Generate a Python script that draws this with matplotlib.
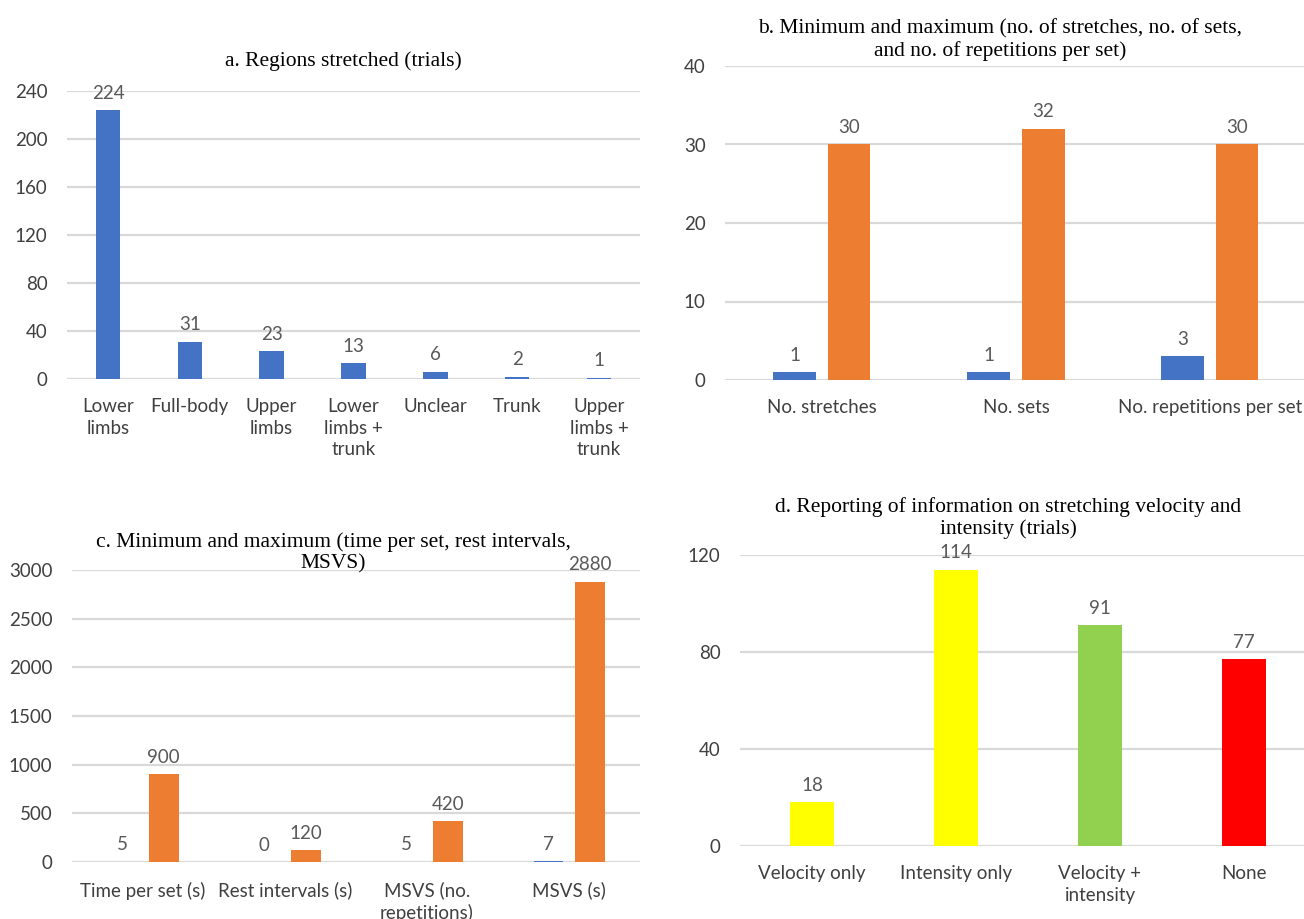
import matplotlib
matplotlib.use("Agg")
import matplotlib.pyplot as plt
import numpy as np

plt.rcParams['font.family'] = ['Lato', 'DejaVu Sans']

# a. Regions stretched (trials)
regions = ['Lower\nlimbs', 'Full-body', 'Upper\nlimbs', 'Lower\nlimbs +\ntrunk',
           'Unclear', 'Trunk', 'Upper\nlimbs +\ntrunk']
region_trials = [224, 31, 23, 13, 6, 2, 1]

# b. min / max of stretches, sets, repetitions
dose_cats = ['No. stretches', 'No. sets', 'No. repetitions per set']
dose_min = [1, 1, 3]
dose_max = [30, 32, 30]

# c. min / max of time per set, rest intervals, MSVS
time_cats = ['Time per set (s)', 'Rest intervals (s)', 'MSVS (no.\nrepetitions)', 'MSVS (s)']
time_min = [5, 0, 5, 7]
time_max = [900, 120, 420, 2880]

# d. reporting of velocity / intensity
report_cats = ['Velocity only', 'Intensity only', 'Velocity +\nintensity', 'None']
report_trials = [18, 114, 91, 77]

BLUE = '#4472C4'
ORANGE = '#ED7D31'
report_colors = ['#FFFF00', '#FFFF00', '#92D050', '#FF0000']
GRID = '#D9D9D9'
TXT = '#595959'
SERIF = ['Liberation Serif', 'DejaVu Serif']

W, H = 1304, 919
fig = plt.figure(figsize=(W / 100, H / 100), dpi=100)


def px_axes(x0, x1, ytop, ybot):
    return fig.add_axes([x0 / W, 1 - ybot / H, (x1 - x0) / W, (ybot - ytop) / H])


def style(ax, ymax, step):
    ax.set_ylim(0, ymax)
    ax.set_yticks(np.arange(0, ymax + 1, step))
    ax.yaxis.grid(True, color=GRID, linewidth=1.6)
    ax.set_axisbelow(True)
    for s in ax.spines.values():
        s.set_visible(False)
    ax.tick_params(length=0, labelsize=13.5, labelcolor=TXT)
    ax.tick_params(axis='y', pad=14, labelcolor='#404040')
    ax.tick_params(axis='x', pad=14, labelcolor='#404040')


def label_bars(ax, bars, vals):
    for b, v in zip(bars, vals):
        ax.annotate(str(v), (b.get_x() + b.get_width() / 2, b.get_height()),
                    xytext=(0, 6), textcoords='offset points', ha='center', va='bottom',
                    fontsize=13.5, color=TXT, clip_on=False)


def title(xc, yc, s):
    fig.text(xc / W, 1 - yc / H, s, ha='center', va='center', fontsize=15.5,
             family=SERIF, linespacing=1.2)


# panel a
ax = px_axes(67, 640, 91, 379)
x = np.arange(len(regions))
bars = ax.bar(x, region_trials, width=0.3, color=BLUE)
ax.set_xlim(-0.5, len(regions) - 0.5)
style(ax, 240, 40)
ax.set_xticks(x, regions, linespacing=1.3, va='top')
label_bars(ax, bars, region_trials)
title(343, 61, 'a. Regions stretched (trials)')

# panel b
ax = px_axes(725, 1307, 66, 380)
x = np.arange(len(dose_cats))
w = 0.22
b1 = ax.bar(x - 0.14, dose_min, width=w, color=BLUE)
b2 = ax.bar(x + 0.14, dose_max, width=w, color=ORANGE)
ax.set_xlim(-0.5, len(dose_cats) - 0.5)
style(ax, 40, 10)
ax.set_xticks(x, dose_cats)
label_bars(ax, b1, dose_min)
label_bars(ax, b2, dose_max)
title(1000, 40, 'b. Minimum and maximum (no. of stretches, no. of sets,\nand no. of repetitions per set)')

# panel c
ax = px_axes(72, 640, 570, 862)
x = np.arange(len(time_cats))
w = 0.21
b1 = ax.bar(x - 0.145, time_min, width=w, color=BLUE)
b2 = ax.bar(x + 0.145, time_max, width=w, color=ORANGE)
ax.set_xlim(-0.5, len(time_cats) - 0.5)
style(ax, 3000, 500)
ax.set_xticks(x, time_cats, linespacing=1.3, va='top')
label_bars(ax, b1, time_min)
label_bars(ax, b2, time_max)
title(333, 553, 'c. Minimum and maximum (time per set, rest intervals,\nMSVS)')

# panel d
ax = px_axes(740, 1316, 555, 846)
x = np.arange(len(report_cats))
bars = ax.bar(x, report_trials, width=0.31, color=report_colors)
ax.set_xlim(-0.5, len(report_cats) - 0.5)
style(ax, 120, 40)
ax.set_xticks(x, report_cats, linespacing=1.3, va='top')
label_bars(ax, bars, report_trials)
title(1008, 518, 'd. Reporting of information on stretching velocity and\nintensity (trials)')

fig.savefig('out.png', dpi=100, facecolor='white')
